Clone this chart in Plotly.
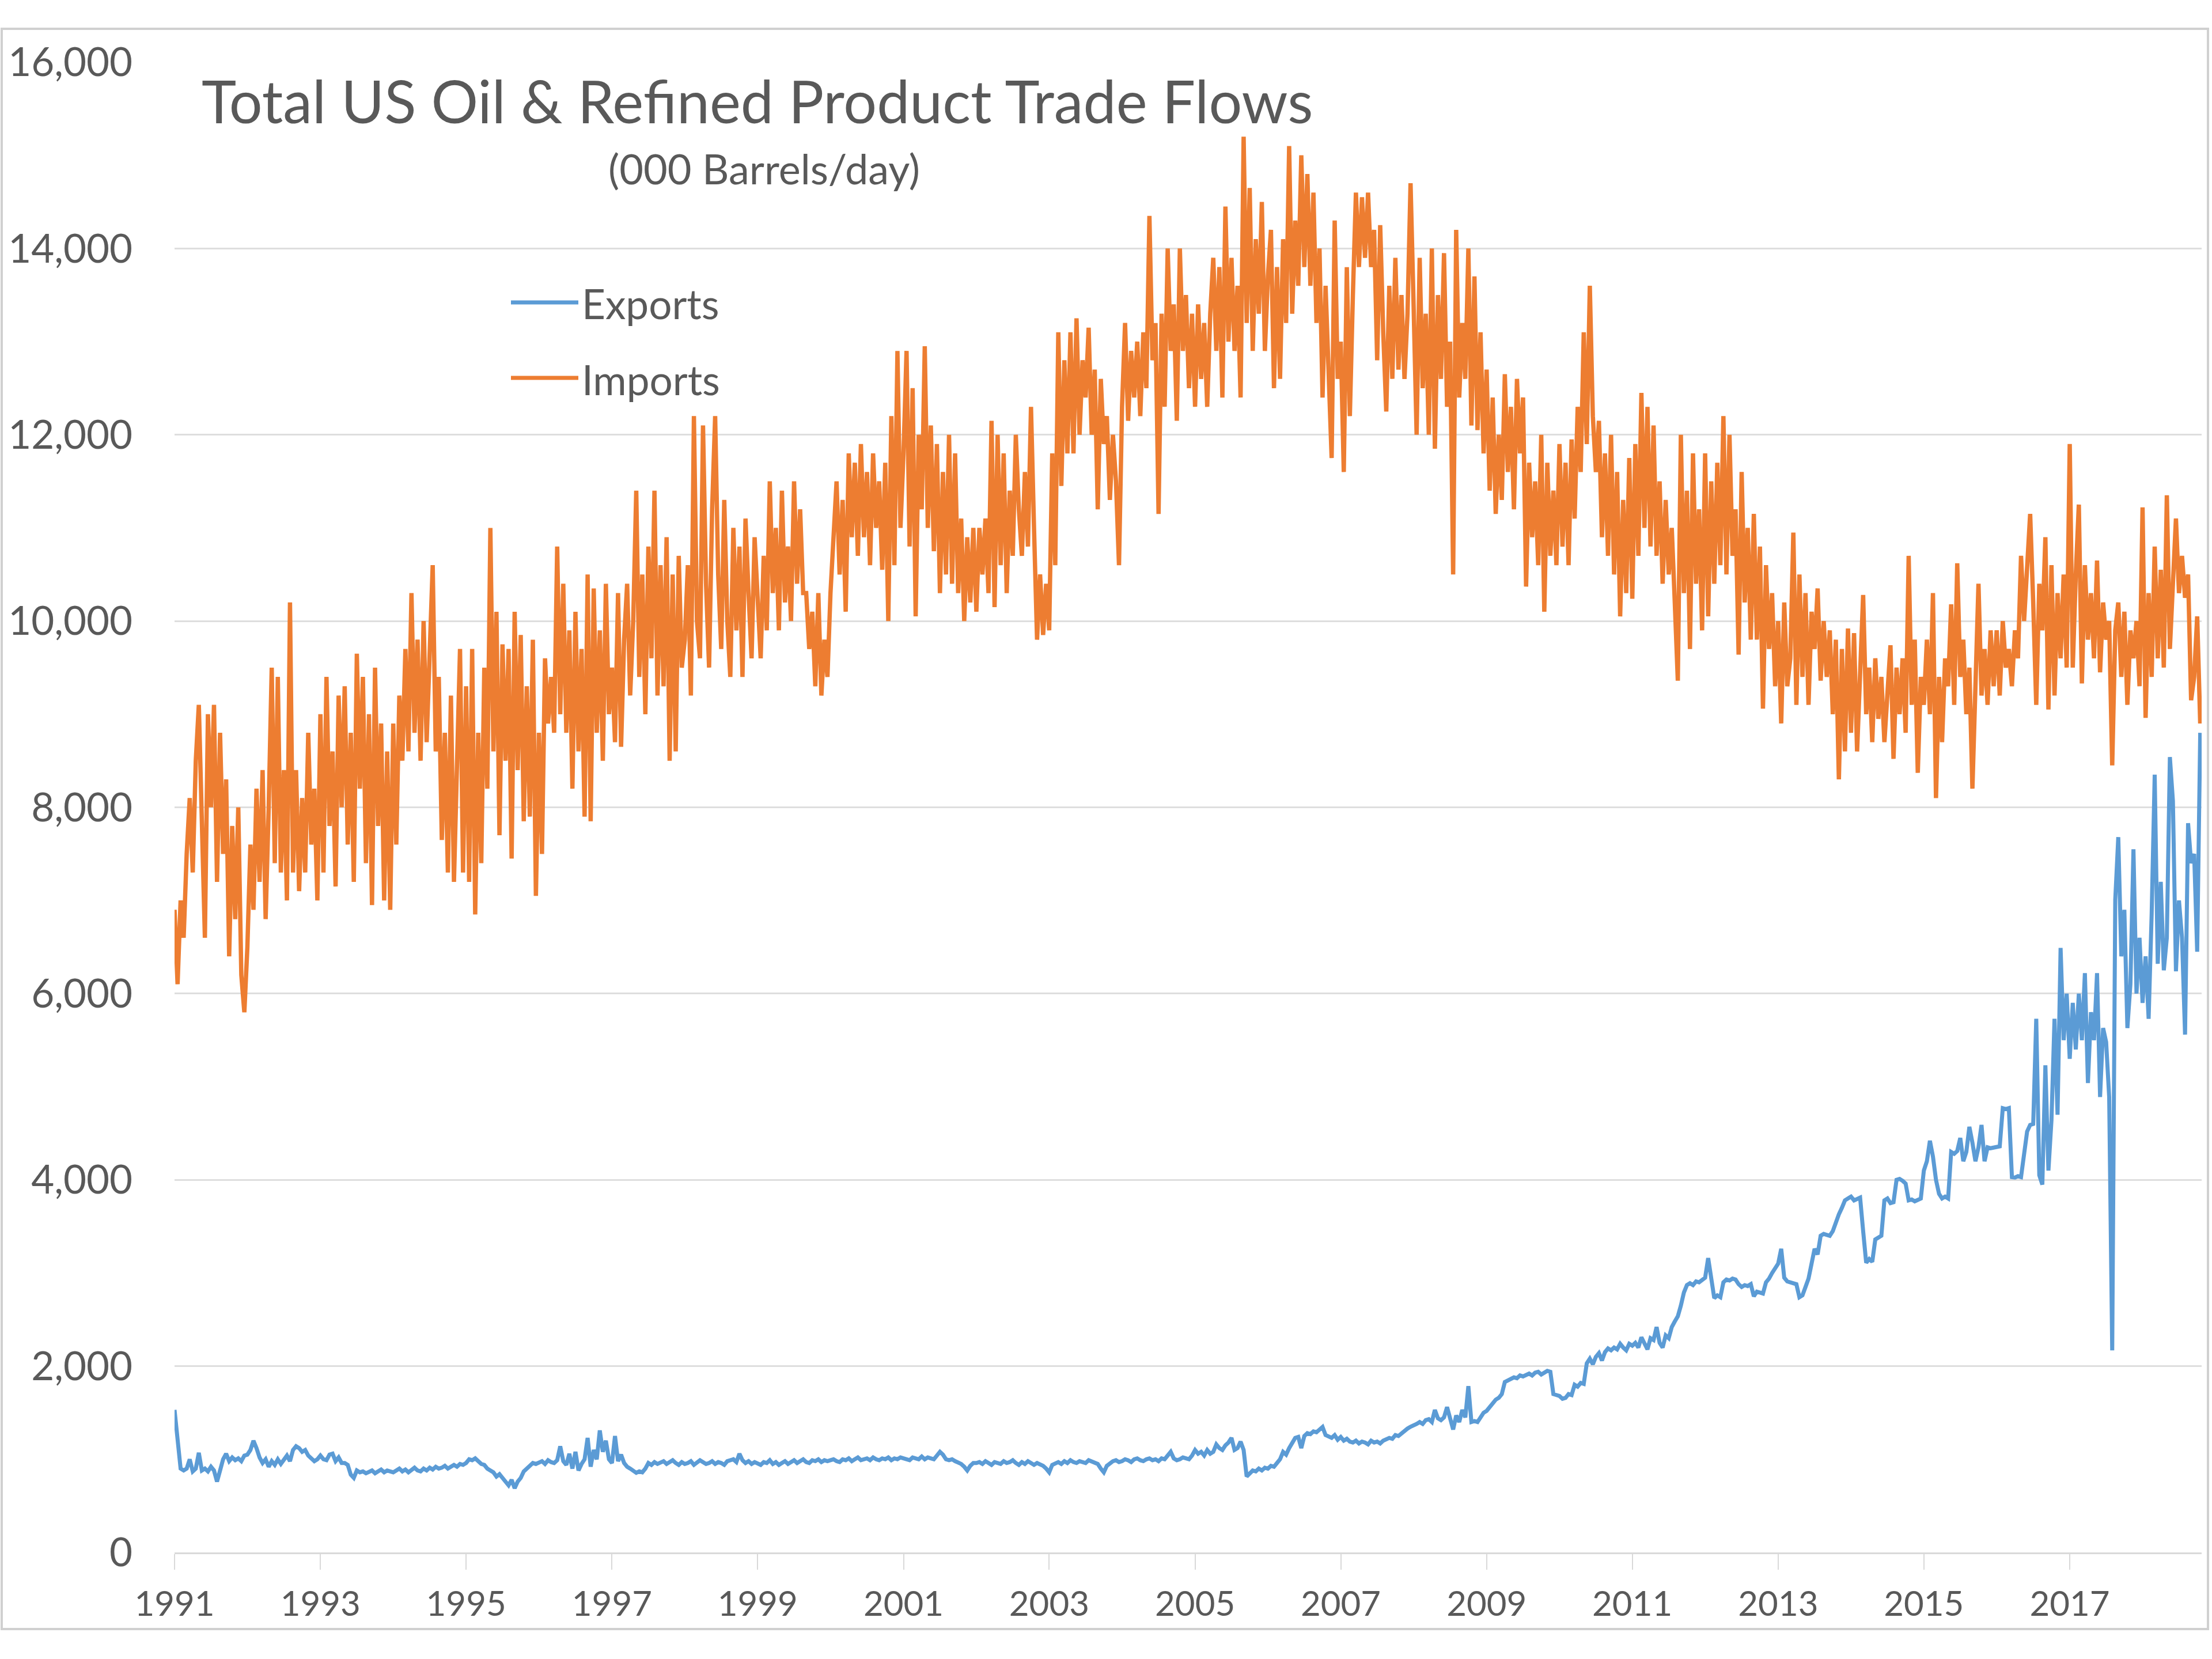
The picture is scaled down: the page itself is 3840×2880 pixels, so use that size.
import pandas as pd
import plotly.graph_objects as go

# ---------------- data (thousand barrels/day, semi-monthly samples) ----------------
X_TICK_YEARS = list(range(1991, 2018, 2))
Y_TICKS = list(range(0, 16001, 2000))
SERIES_NAMES = ["Exports", "Imports"]

IMP_1991 = [6900, 6100, 7000, 6600, 7500, 8100, 7300, 8500, 9100, 7600, 6600, 9000, 8000, 9100, 7200, 8800, 7500, 8300, 6400, 7800, 6800, 8000, 6200, 5800]
IMP_1992 = [6500, 7600, 6900, 8200, 7200, 8400, 6800, 8000, 9500, 7400, 9400, 7300, 8400, 7000, 10200, 7300, 8400, 7100, 8100, 7300, 8800, 7600, 8200, 7000]
IMP_1993 = [9000, 7300, 9400, 7800, 8600, 7150, 9200, 8000, 9300, 7600, 8800, 7200, 9650, 8200, 9400, 7400, 9000, 6950, 9500, 7800, 8900, 7000, 8600, 6900]
IMP_1994 = [8900, 7600, 9200, 8500, 9700, 8600, 10300, 8800, 9800, 8500, 10000, 8700, 9600, 10600, 8600, 9400, 7650, 8800, 7300, 9200, 7200, 8700, 9700, 7300]
IMP_1995 = [9300, 7200, 9700, 6850, 8800, 7400, 9500, 8200, 11000, 8600, 10100, 7700, 9750, 8500, 9700, 7450, 10100, 8400, 9850, 7850, 9300, 7900, 9800, 7050]
IMP_1996 = [8800, 7500, 9600, 8900, 9400, 8800, 10800, 9000, 10400, 8800, 9900, 8200, 10100, 8600, 9700, 7900, 10500, 7850, 10350, 8800, 9900, 8500, 10400, 9000]
IMP_1997 = [9500, 8700, 10300, 8650, 9800, 10400, 9200, 10000, 11400, 9400, 10500, 9000, 10800, 9600, 11400, 9200, 10600, 9300, 10900, 8500, 10500, 8600, 10700, 9500]
IMP_1998 = [9800, 10600, 9200, 12200, 10000, 9600, 12100, 10400, 9500, 11200, 12200, 10500, 9700, 11300, 10000, 9400, 11000, 9900, 10800, 9400, 11100, 10300, 9600, 10900]
IMP_1999 = [10200, 9600, 10700, 9900, 11500, 10300, 11000, 9900, 11400, 10200, 10800, 10000, 11500, 10400, 11200, 10300, 10300, 9700, 10100, 9300, 10300, 9200, 9800, 9400]
IMP_2000 = [10300, 10900, 11500, 10500, 11300, 10100, 11800, 10900, 11700, 10700, 11900, 10900, 11600, 10600, 11800, 11000, 11500, 10550, 11700, 10000, 12200, 10600, 12900, 11000]
IMP_2001 = [11800, 12900, 10800, 12500, 10050, 12000, 11200, 12950, 11000, 12100, 10750, 11900, 10300, 11600, 10500, 12000, 10400, 11800, 10300, 11100, 10000, 10900, 10200, 11000]
IMP_2002 = [10100, 11000, 10500, 11100, 10300, 12150, 10150, 12000, 10600, 11800, 10300, 11400, 10700, 12000, 11200, 10700, 11600, 10800, 12300, 11000, 9800, 10500, 9850, 10400]
IMP_2003 = [9900, 11800, 10600, 13100, 11450, 12800, 11800, 13100, 11800, 13250, 12000, 12800, 12400, 13150, 12000, 12700, 11200, 12600, 11900, 12200, 11300, 12000, 11500, 10600]
IMP_2004 = [12300, 13200, 12150, 12900, 12400, 13000, 12200, 13100, 12500, 14350, 12800, 13200, 11150, 13300, 12300, 14000, 12900, 13400, 12150, 14000, 12900, 13500, 12500, 13300]
IMP_2005 = [12300, 13400, 12600, 13200, 12300, 13300, 13900, 12900, 13800, 12400, 14450, 13000, 13900, 12900, 13600, 12400, 15200, 13200, 14650, 12900, 14100, 13300, 14500, 12900]
IMP_2006 = [13700, 14200, 12500, 13800, 12600, 14100, 13200, 15100, 13300, 14300, 13600, 15000, 13800, 14800, 13600, 14600, 13200, 14000, 12400, 13600, 12800, 11750, 14300, 12600]
IMP_2007 = [13000, 11600, 13800, 12200, 13500, 14600, 13800, 14550, 13900, 14600, 13800, 14200, 12800, 14250, 13100, 12250, 13600, 12600, 13900, 12700, 13500, 12600, 13300, 14700]
IMP_2008 = [13400, 12000, 13900, 12500, 13300, 12000, 14000, 11850, 13500, 12600, 13950, 12300, 13000, 10500, 14200, 12400, 13200, 12600, 14000, 12100, 13700, 12050, 13100, 11800]
IMP_2009 = [12700, 11400, 12400, 11150, 12000, 11300, 12650, 11600, 12300, 11200, 12600, 11800, 12400, 10370, 11700, 10900, 11500, 10600, 12000, 10100, 11700, 10700, 11400, 10600]
IMP_2010 = [11900, 10800, 11700, 10600, 11950, 11100, 12300, 11600, 13100, 11900, 13600, 12200, 11600, 12150, 10900, 11800, 10700, 12000, 10500, 11600, 10050, 11300, 10300, 11750]
IMP_2011 = [10240, 11900, 10700, 12450, 11000, 12300, 10800, 12100, 10700, 11500, 10400, 11300, 10500, 11000, 10200, 9360, 12000, 10300, 11400, 9700, 11800, 10400, 11200, 9900]
IMP_2012 = [11800, 10050, 11500, 10400, 11700, 10600, 12200, 10500, 12000, 10700, 11200, 9640, 11600, 10200, 11000, 9800, 11150, 9800, 10800, 9060, 10600, 9700, 10300, 9300]
IMP_2013 = [10000, 8900, 10200, 9300, 9600, 10950, 9100, 10500, 9400, 10300, 9100, 10100, 9700, 10350, 9360, 10000, 9400, 9900, 9000, 9800, 8300, 9700, 8600, 9920]
IMP_2014 = [8800, 9870, 8600, 9500, 10280, 9000, 9500, 8700, 9600, 8950, 9400, 8700, 9300, 9740, 8520, 9500, 9000, 9600, 8800, 10700, 9100, 9800, 8370, 9400]
IMP_2015 = [9100, 9800, 9000, 10300, 8100, 9400, 8700, 9600, 9300, 10180, 9100, 10620, 9400, 9800, 9000, 9500, 8200, 9300, 10400, 9200, 9700, 9100, 9900, 9300]
IMP_2016 = [9900, 9200, 10000, 9500, 9700, 9300, 9900, 9600, 10700, 10000, 10500, 11150, 10200, 9100, 10400, 9900, 10900, 9050, 10600, 9200, 10300, 9600, 10500, 9500]
IMP_2017 = [11900, 9500, 10500, 11250, 9330, 10600, 9800, 10300, 9600, 10650, 9450, 10200, 9800, 10000, 8450, 9900, 10200, 9400, 10100, 9100, 9900, 9600, 10000, 9300]
IMP_2018 = [11220, 8960, 10300, 9400, 10800, 9600, 10550, 9500, 11350, 9700, 10400, 11100, 10300, 10700, 10250, 10500, 9150, 9400, 10050, 8900]

EXP_1991 = [1530, 1200, 900, 880, 900, 1000, 870, 900, 1070, 880, 900, 870, 920, 880, 760, 880, 1000, 1060, 980, 1020, 990, 1010, 980, 1040]
EXP_1992 = [1050, 1100, 1200, 1120, 1020, 960, 1000, 920, 980, 940, 1000, 950, 990, 1040, 980, 1100, 1140, 1120, 1080, 1100, 1040, 1010, 980, 1000]
EXP_1993 = [1040, 1000, 990, 1050, 1060, 980, 1020, 960, 960, 940, 835, 800, 880, 860, 870, 850, 860, 880, 850, 870, 890, 860, 880, 870]
EXP_1994 = [860, 880, 900, 870, 890, 860, 880, 910, 880, 870, 900, 880, 910, 890, 920, 900, 910, 930, 900, 920, 940, 920, 950, 940]
EXP_1995 = [960, 1000, 990, 1010, 980, 950, 940, 900, 880, 860, 815, 840, 800, 760, 720, 780, 690, 760, 800, 870, 900, 940, 960, 950]
EXP_1996 = [960, 980, 950, 990, 970, 960, 990, 1140, 980, 940, 1060, 900, 1080, 880, 950, 1000, 1230, 920, 1100, 1000, 1310, 1080, 1200, 1000]
EXP_1997 = [960, 1250, 980, 1050, 960, 920, 900, 880, 855, 870, 860, 900, 960, 940, 970, 950, 960, 980, 950, 970, 990, 960, 940, 970]
EXP_1998 = [950, 960, 980, 940, 960, 990, 970, 950, 960, 980, 950, 970, 960, 940, 980, 990, 1000, 970, 1060, 990, 960, 980, 950, 970]
EXP_1999 = [960, 940, 970, 960, 990, 950, 970, 940, 960, 980, 950, 970, 990, 960, 980, 1000, 970, 960, 990, 980, 1000, 970, 990, 980]
EXP_2000 = [990, 1000, 980, 970, 1000, 990, 1010, 980, 1000, 1020, 990, 1000, 1010, 990, 1020, 1000, 990, 1010, 1000, 1020, 990, 1010, 1000, 1020]
EXP_2001 = [1010, 1000, 990, 1020, 1010, 1000, 1030, 1000, 1020, 1010, 1000, 1040, 1080, 1050, 1000, 990, 1000, 980, 970, 950, 920, 880, 930, 960]
EXP_2002 = [960, 970, 950, 980, 960, 940, 970, 960, 950, 980, 960, 970, 990, 960, 940, 970, 950, 980, 960, 940, 960, 950, 930, 900]
EXP_2003 = [860, 940, 960, 970, 950, 980, 960, 990, 970, 960, 980, 970, 960, 990, 980, 960, 950, 900, 860, 930, 960, 980, 990, 970]
EXP_2004 = [980, 1000, 990, 970, 1000, 1010, 990, 980, 1000, 1010, 990, 1000, 980, 1010, 1000, 1040, 1080, 1010, 990, 1000, 1020, 1010, 1000, 1040]
EXP_2005 = [1100, 1060, 1080, 1040, 1100, 1060, 1080, 1160, 1120, 1100, 1150, 1180, 1230, 1100, 1120, 1190, 1100, 815, 850, 880, 870, 900, 880, 910]
EXP_2006 = [900, 930, 920, 960, 1000, 1080, 1050, 1120, 1180, 1230, 1240, 1120, 1250, 1280, 1270, 1300, 1290, 1320, 1347, 1260, 1250, 1230, 1260, 1210]
EXP_2007 = [1240, 1200, 1220, 1190, 1180, 1200, 1170, 1190, 1180, 1160, 1200, 1180, 1190, 1170, 1200, 1210, 1230, 1220, 1260, 1250, 1280, 1300, 1330, 1350]
EXP_2008 = [1360, 1380, 1400, 1380, 1420, 1430, 1400, 1530, 1440, 1420, 1450, 1560, 1440, 1320, 1470, 1400, 1530, 1450, 1785, 1400, 1410, 1400, 1450, 1500]
EXP_2009 = [1520, 1560, 1600, 1640, 1660, 1700, 1830, 1850, 1860, 1880, 1870, 1900, 1890, 1910, 1920, 1900, 1930, 1940, 1910, 1930, 1950, 1940, 1700, 1690]
EXP_2010 = [1680, 1650, 1660, 1700, 1690, 1800, 1780, 1820, 1810, 2030, 2080, 2020, 2100, 2140, 2060, 2150, 2190, 2170, 2200, 2180, 2240, 2200, 2170, 2240]
EXP_2011 = [2220, 2250, 2200, 2310, 2250, 2180, 2300, 2280, 2420, 2250, 2200, 2330, 2300, 2420, 2480, 2535, 2650, 2790, 2870, 2890, 2870, 2910, 2900, 2930]
EXP_2012 = [2950, 3160, 2950, 2730, 2760, 2740, 2900, 2930, 2920, 2940, 2930, 2880, 2850, 2870, 2860, 2880, 2750, 2800, 2790, 2780, 2900, 2940, 3000, 3060]
EXP_2013 = [3100, 3260, 2950, 2910, 2900, 2890, 2880, 2740, 2760, 2850, 2940, 3100, 3260, 3200, 3400, 3420, 3410, 3400, 3450, 3550, 3630, 3700, 3780, 3800]
EXP_2014 = [3820, 3780, 3800, 3810, 3450, 3110, 3150, 3120, 3360, 3380, 3400, 3780, 3800, 3750, 3760, 4000, 4010, 3990, 3960, 3780, 3790, 3770, 3780, 3800]
EXP_2015 = [4100, 4200, 4420, 4250, 4000, 3850, 3800, 3820, 3800, 4300, 4280, 4310, 4450, 4200, 4300, 4570, 4400, 4200, 4350, 4590, 4200, 4350, 4340, 4350]
EXP_2016 = [4350, 4360, 4770, 4760, 4770, 4030, 4025, 4040, 4030, 4250, 4520, 4590, 4600, 5730, 4050, 3950, 5230, 4100, 4640, 5730, 4700, 6490, 5500, 6000]
EXP_2017 = [5300, 5900, 5400, 6000, 5500, 6220, 5040, 5800, 5500, 6220, 4890, 5630, 5480, 4890, 2170, 7010, 7680, 6400, 6900, 5630, 6100, 7550, 6000, 6600]
EXP_2018 = [5900, 6400, 5730, 6860, 8350, 6320, 7200, 6250, 6600, 8540, 8070, 6240, 7000, 6600, 5560, 7830, 7400, 7500, 6450, 8800]

IMPORTS_BY_YEAR = {
    1991: IMP_1991, 1992: IMP_1992, 1993: IMP_1993, 1994: IMP_1994, 1995: IMP_1995,
    1996: IMP_1996, 1997: IMP_1997, 1998: IMP_1998, 1999: IMP_1999, 2000: IMP_2000,
    2001: IMP_2001, 2002: IMP_2002, 2003: IMP_2003, 2004: IMP_2004, 2005: IMP_2005,
    2006: IMP_2006, 2007: IMP_2007, 2008: IMP_2008, 2009: IMP_2009, 2010: IMP_2010,
    2011: IMP_2011, 2012: IMP_2012, 2013: IMP_2013, 2014: IMP_2014, 2015: IMP_2015,
    2016: IMP_2016, 2017: IMP_2017, 2018: IMP_2018,
}
EXPORTS_BY_YEAR = {
    1991: EXP_1991, 1992: EXP_1992, 1993: EXP_1993, 1994: EXP_1994, 1995: EXP_1995,
    1996: EXP_1996, 1997: EXP_1997, 1998: EXP_1998, 1999: EXP_1999, 2000: EXP_2000,
    2001: EXP_2001, 2002: EXP_2002, 2003: EXP_2003, 2004: EXP_2004, 2005: EXP_2005,
    2006: EXP_2006, 2007: EXP_2007, 2008: EXP_2008, 2009: EXP_2009, 2010: EXP_2010,
    2011: EXP_2011, 2012: EXP_2012, 2013: EXP_2013, 2014: EXP_2014, 2015: EXP_2015,
    2016: EXP_2016, 2017: EXP_2017, 2018: EXP_2018,
}


def year_dates(year, n):
    start = pd.Timestamp(year=year, month=1, day=1)
    span = pd.Timestamp(year=year + 1, month=1, day=1) - start
    step = span / max(n, 24)
    return [(start + step * i).strftime("%Y-%m-%d %H:%M") for i in range(n)]


def flatten(by_year):
    xs, ys = [], []
    for yr in sorted(by_year):
        vals = by_year[yr]
        xs.extend(year_dates(yr, len(vals)))
        ys.extend(vals)
    return xs, ys


exp_x, exp_y = flatten(EXPORTS_BY_YEAR)
imp_x, imp_y = flatten(IMPORTS_BY_YEAR)

# ---------------- styling / layout ----------------
W, H = 3840, 2880
PL, PR, PT, PB = 303, 3822, 108, 2695  # plot area in pixels
BLUE, ORANGE = "#5B9BD5", "#ED7D31"
TXT = "#595959"
GRID = "#dedede"
FONT = "Lato"


def px(x):
    return (x - PL) / (PR - PL)


def py(y):
    return (PB - y) / (PB - PT)


fig = go.Figure()
fig.add_trace(go.Scatter(x=exp_x, y=exp_y, mode="lines", name=SERIES_NAMES[0],
                         line=dict(color=BLUE, width=7)))
fig.add_trace(go.Scatter(x=imp_x, y=imp_y, mode="lines", name=SERIES_NAMES[1],
                         line=dict(color=ORANGE, width=7.5)))

fig.update_layout(
    width=W, height=H,
    margin=dict(l=PL, r=W - PR, t=PT, b=H - PB, pad=0),
    paper_bgcolor="white", plot_bgcolor="white",
    showlegend=False,
    font=dict(family=FONT, color=TXT),
)

fig.update_xaxes(
    type="date",
    range=["1991-01-01", "2018-10-24"],
    tickmode="array",
    tickvals=[f"{y}-01-01" for y in X_TICK_YEARS],
    ticktext=[str(y) for y in X_TICK_YEARS],
    ticks="outside", ticklen=27, tickwidth=2, tickcolor="#d9d9d9",
    showline=True, linecolor="#d9d9d9", linewidth=3,
    showgrid=False, zeroline=False,
    tickfont=dict(family=FONT, size=60, color=TXT),
    ticklabelstandoff=8,
)
fig.update_yaxes(
    range=[0, 16000],
    tickmode="array", tickvals=Y_TICKS,
    tickformat=",",
    showgrid=True, gridcolor=GRID, gridwidth=2.5,
    zeroline=False, showline=False, ticks="",
    tickfont=dict(family=FONT, size=69, color=TXT),
    ticklabelstandoff=72,
)

shapes = [
    # chart-area border
    dict(type="rect", xref="paper", yref="paper",
         x0=px(3), x1=px(3833), y0=py(2828), y1=py(50),
         line=dict(color="#d0d0d0", width=4), fillcolor="rgba(0,0,0,0)", layer="below"),
    # legend samples
    dict(type="line", xref="paper", yref="paper",
         x0=px(887), x1=px(1004), y0=py(525), y1=py(525),
         line=dict(color=BLUE, width=7)),
    dict(type="line", xref="paper", yref="paper",
         x0=px(887), x1=px(1004), y0=py(656), y1=py(656),
         line=dict(color=ORANGE, width=7)),
]

annotations = [
    dict(text="Total US Oil &amp; Refined Product Trade Flows", xref="paper", yref="paper",
         x=px(348), y=py(175), xanchor="left", yanchor="middle", showarrow=False,
         font=dict(family=FONT, size=102, color=TXT)),
    dict(text="(000 Barrels/day)", xref="paper", yref="paper",
         x=px(1326), y=py(292), xanchor="center", yanchor="middle", showarrow=False,
         font=dict(family=FONT, size=72, color=TXT)),
    dict(text=SERIES_NAMES[0], xref="paper", yref="paper",
         x=px(1008), y=py(526), xanchor="left", yanchor="middle", showarrow=False,
         font=dict(family=FONT, size=71, color=TXT)),
    dict(text=SERIES_NAMES[1], xref="paper", yref="paper",
         x=px(1008), y=py(658), xanchor="left", yanchor="middle", showarrow=False,
         font=dict(family=FONT, size=71, color=TXT)),
]

fig.update_layout(shapes=shapes, annotations=annotations)

fig.write_html(
    "out.html",
    config={"displayModeBar": False},
    post_script="document.body.style.margin='0';document.body.style.overflow='hidden';",
)
